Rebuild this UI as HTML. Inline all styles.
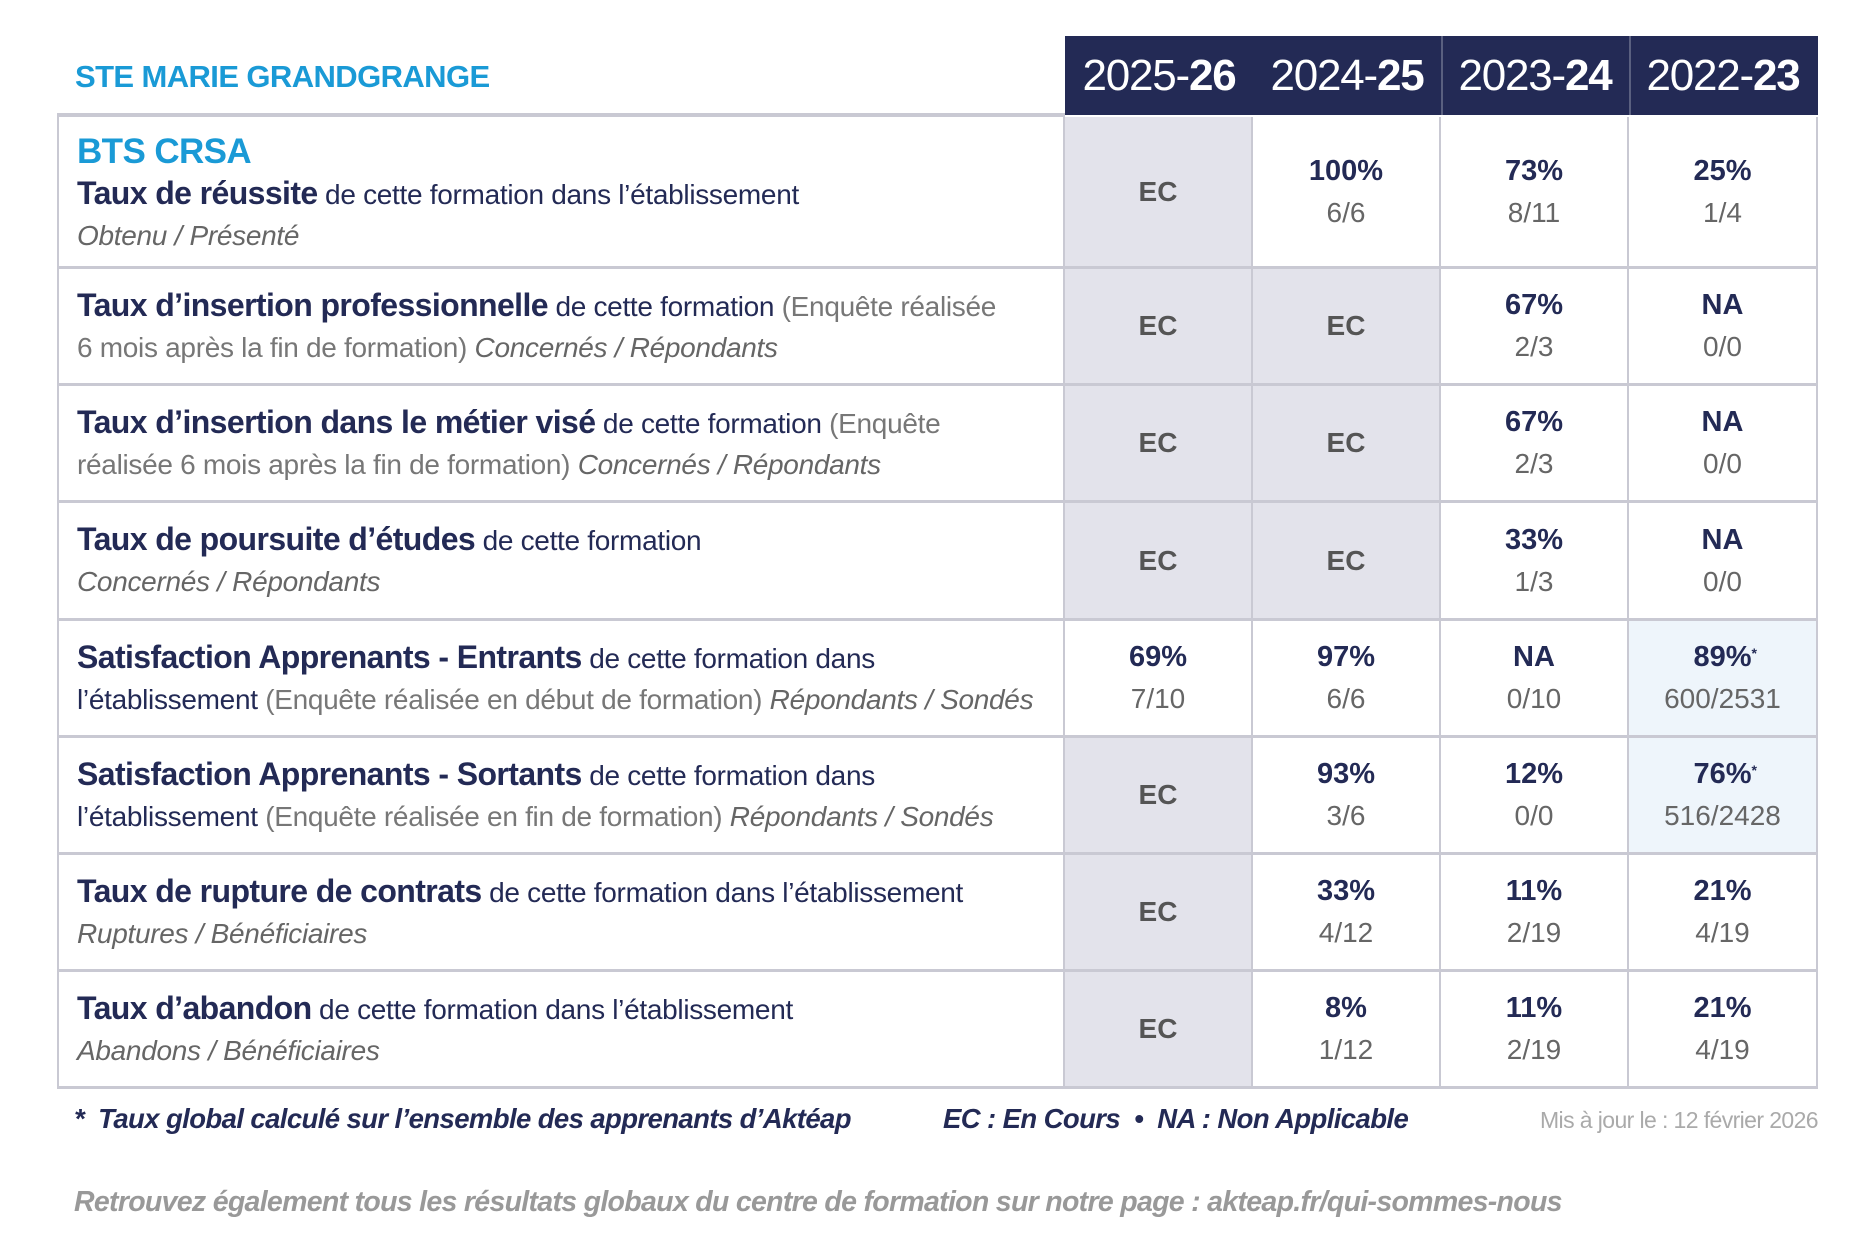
<!DOCTYPE html>
<html><head><meta charset="utf-8"><style>
*{margin:0;padding:0;box-sizing:border-box}
body{width:1875px;height:1250px;background:#fff;font-family:"Liberation Sans Narrow","Liberation Sans",sans-serif;color:#232a55;position:relative;overflow:hidden}
.a{position:absolute}
.hdr{background:#232a55;top:36px;height:79px}
.yr{color:#fff;font-size:44px;letter-spacing:-1.2px;top:36px;height:79px;display:flex;align-items:center;justify-content:center;width:188px}
.yr b{font-weight:bold}
.cell{display:flex;flex-direction:column;align-items:center;justify-content:center;text-align:center;border-right:2px solid #c9c9d3;border-bottom:3px solid #c9c9d3}
.cell .p{font-weight:bold;font-size:29px;color:#232a55;line-height:41px;position:relative}
.cell .p sup{position:absolute;font-size:14px;top:-4px}
.cell .f{font-size:28px;color:#666;line-height:41px}
.cell .ec{font-weight:bold;font-size:28px;color:#555}
.g{background:#e3e3eb}.bl{background:#eef5fb}
.lab{left:57px;width:1008px;border-left:2px solid #c9c9d3;border-right:2px solid #c9c9d3;border-bottom:3px solid #c9c9d3;padding-left:18px;display:flex;flex-direction:column;justify-content:center;font-size:28px;letter-spacing:-0.3px;line-height:41px;color:#232a55;white-space:nowrap}
.lab b{font-size:32px;letter-spacing:-0.6px}
.lab .s{color:#777}
.lab i{color:#666}
</style></head><body>
<div class="a" style="left:75px;top:59px;font-size:31px;letter-spacing:-0.6px;font-weight:bold;color:#1a9ad6">STE MARIE GRANDGRANGE</div>
<div class="a hdr" style="left:1065px;width:753px"></div>
<div class="a" style="left:1441px;top:36px;width:2px;height:79px;background:#5a6080"></div>
<div class="a" style="left:1629px;top:36px;width:2px;height:79px;background:#5a6080"></div>
<div class="a yr" style="left:1065px">2025-<b>26</b></div>
<div class="a yr" style="left:1253px">2024-<b>25</b></div>
<div class="a yr" style="left:1441px">2023-<b>24</b></div>
<div class="a yr" style="left:1629px">2022-<b>23</b></div>
<div class="a" style="left:57px;top:113px;width:1008px;height:4px;background:#c9c9d3"></div>

<div class="a lab" style="top:117px;height:152px;padding-top:4px"><div style="font-size:35px;font-weight:bold;color:#1a9ad6;line-height:42px;letter-spacing:-0.6px">BTS CRSA</div><div><b>Taux de réussite</b> de cette formation dans l’établissement</div><div><i>Obtenu / Présenté</i></div></div>
<div class="a lab" style="top:269px;height:117px"><div><b>Taux d’insertion professionnelle</b> de cette formation <span class="s">(Enquête réalisée</span></div><div><span class="s">6 mois après la fin de formation)</span> <i>Concernés / Répondants</i></div></div>
<div class="a lab" style="top:386px;height:117px"><div><b>Taux d’insertion dans le métier visé</b> de cette formation <span class="s">(Enquête</span></div><div><span class="s">réalisée 6 mois après la fin de formation)</span> <i>Concernés / Répondants</i></div></div>
<div class="a lab" style="top:503px;height:118px"><div><b>Taux de poursuite d’études</b> de cette formation</div><div><i>Concernés / Répondants</i></div></div>
<div class="a lab" style="top:621px;height:117px"><div><b>Satisfaction Apprenants - Entrants</b> de cette formation dans</div><div>l’établissement <span class="s">(Enquête réalisée en début de formation)</span> <i>Répondants / Sondés</i></div></div>
<div class="a lab" style="top:738px;height:117px"><div><b>Satisfaction Apprenants - Sortants</b> de cette formation dans</div><div>l’établissement <span class="s">(Enquête réalisée en fin de formation)</span> <i>Répondants / Sondés</i></div></div>
<div class="a lab" style="top:855px;height:117px"><div><b>Taux de rupture de contrats</b> de cette formation dans l’établissement</div><div><i>Ruptures / Bénéficiaires</i></div></div>
<div class="a lab" style="top:972px;height:117px"><div><b>Taux d’abandon</b> de cette formation dans l’établissement</div><div><i>Abandons / Bénéficiaires</i></div></div>

<div class="a cell g" style="left:1065px;top:117px;width:188px;height:152px"><div class="ec">EC</div></div>
<div class="a cell" style="left:1253px;top:117px;width:188px;height:152px"><div class="p">100%</div><div class="f">6/6</div></div>
<div class="a cell" style="left:1441px;top:117px;width:188px;height:152px"><div class="p">73%</div><div class="f">8/11</div></div>
<div class="a cell" style="left:1629px;top:117px;width:189px;height:152px"><div class="p">25%</div><div class="f">1/4</div></div>

<div class="a cell g" style="left:1065px;top:269px;width:188px;height:117px"><div class="ec">EC</div></div>
<div class="a cell g" style="left:1253px;top:269px;width:188px;height:117px"><div class="ec">EC</div></div>
<div class="a cell" style="left:1441px;top:269px;width:188px;height:117px"><div class="p">67%</div><div class="f">2/3</div></div>
<div class="a cell" style="left:1629px;top:269px;width:189px;height:117px"><div class="p">NA</div><div class="f">0/0</div></div>

<div class="a cell g" style="left:1065px;top:386px;width:188px;height:117px"><div class="ec">EC</div></div>
<div class="a cell g" style="left:1253px;top:386px;width:188px;height:117px"><div class="ec">EC</div></div>
<div class="a cell" style="left:1441px;top:386px;width:188px;height:117px"><div class="p">67%</div><div class="f">2/3</div></div>
<div class="a cell" style="left:1629px;top:386px;width:189px;height:117px"><div class="p">NA</div><div class="f">0/0</div></div>

<div class="a cell g" style="left:1065px;top:503px;width:188px;height:118px"><div class="ec">EC</div></div>
<div class="a cell g" style="left:1253px;top:503px;width:188px;height:118px"><div class="ec">EC</div></div>
<div class="a cell" style="left:1441px;top:503px;width:188px;height:118px"><div class="p">33%</div><div class="f">1/3</div></div>
<div class="a cell" style="left:1629px;top:503px;width:189px;height:118px"><div class="p">NA</div><div class="f">0/0</div></div>

<div class="a cell" style="left:1065px;top:621px;width:188px;height:117px"><div class="p">69%</div><div class="f">7/10</div></div>
<div class="a cell" style="left:1253px;top:621px;width:188px;height:117px"><div class="p">97%</div><div class="f">6/6</div></div>
<div class="a cell" style="left:1441px;top:621px;width:188px;height:117px"><div class="p">NA</div><div class="f">0/10</div></div>
<div class="a cell bl" style="left:1629px;top:621px;width:189px;height:117px"><div class="p">89%<sup>*</sup></div><div class="f">600/2531</div></div>

<div class="a cell g" style="left:1065px;top:738px;width:188px;height:117px"><div class="ec">EC</div></div>
<div class="a cell" style="left:1253px;top:738px;width:188px;height:117px"><div class="p">93%</div><div class="f">3/6</div></div>
<div class="a cell" style="left:1441px;top:738px;width:188px;height:117px"><div class="p">12%</div><div class="f">0/0</div></div>
<div class="a cell bl" style="left:1629px;top:738px;width:189px;height:117px"><div class="p">76%<sup>*</sup></div><div class="f">516/2428</div></div>

<div class="a cell g" style="left:1065px;top:855px;width:188px;height:117px"><div class="ec">EC</div></div>
<div class="a cell" style="left:1253px;top:855px;width:188px;height:117px"><div class="p">33%</div><div class="f">4/12</div></div>
<div class="a cell" style="left:1441px;top:855px;width:188px;height:117px"><div class="p">11%</div><div class="f">2/19</div></div>
<div class="a cell" style="left:1629px;top:855px;width:189px;height:117px"><div class="p">21%</div><div class="f">4/19</div></div>

<div class="a cell g" style="left:1065px;top:972px;width:188px;height:117px"><div class="ec">EC</div></div>
<div class="a cell" style="left:1253px;top:972px;width:188px;height:117px"><div class="p">8%</div><div class="f">1/12</div></div>
<div class="a cell" style="left:1441px;top:972px;width:188px;height:117px"><div class="p">11%</div><div class="f">2/19</div></div>
<div class="a cell" style="left:1629px;top:972px;width:189px;height:117px"><div class="p">21%</div><div class="f">4/19</div></div>

<div class="a" style="left:74px;top:1103px;font-size:27.5px;letter-spacing:-0.6px;font-style:italic;font-weight:bold;color:#232a55;white-space:nowrap">*&nbsp; Taux global calculé sur l’ensemble des apprenants d’Aktéap</div>
<div class="a" style="left:943px;top:1103px;font-size:27.5px;letter-spacing:-0.6px;font-style:italic;font-weight:bold;color:#232a55;white-space:nowrap">EC : En Cours &nbsp;•&nbsp; NA : Non Applicable</div>
<div class="a" style="right:57px;top:1107px;font-size:23px;letter-spacing:-0.6px;color:#aaa;white-space:nowrap">Mis à jour le : 12 février 2026</div>
<div class="a" style="left:74px;top:1186px;font-size:28.5px;letter-spacing:-0.7px;font-style:italic;font-weight:bold;color:#999;white-space:nowrap">Retrouvez également tous les résultats globaux du centre de formation sur notre page : akteap.fr/qui-sommes-nous</div>
</body></html>
